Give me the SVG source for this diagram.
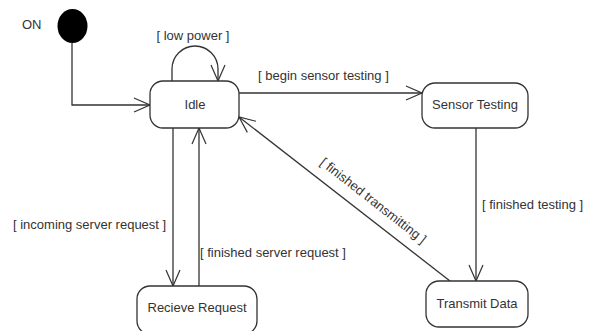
<svg xmlns="http://www.w3.org/2000/svg" width="593" height="331" viewBox="0 0 593 331">
<defs>
<marker id="arr" markerUnits="userSpaceOnUse" markerWidth="20" markerHeight="20" viewBox="-18 -10 20 20" refX="0" refY="0" orient="auto">
<path d="M-16,-7 L0,0 L-16,7" fill="none" stroke="#333" stroke-width="1.2"/>
</marker>
</defs>
<style>
.box{fill:#fff;stroke:#333;stroke-width:1.3}
.t{font-family:"Liberation Sans",Arial,sans-serif;font-size:13px;fill:#333}
.c{fill:none;stroke:#333;stroke-width:1.3;marker-end:url(#arr)}
</style>
<rect width="593" height="331" fill="#fff"/>
<g id="connectors">
<path class="c" d="M72,43 V105 H150"/>
<path class="c" d="M172,81 V69 A23,23 0 0 1 218,69 V81"/>
<path class="c" d="M239,93 H422"/>
<path class="c" d="M476,128 V281"/>
<path class="c" d="M450,281 L239,117"/>
<path class="c" d="M173,128 V286"/>
<path class="c" d="M199,286 V128"/>
</g>
<g id="labels">
<text class="t" x="193" y="40" text-anchor="middle">[ low power ]</text>
<text class="t" x="258" y="80">[ begin sensor testing ]</text>
<text class="t" x="482" y="209">[ finished testing ]</text>
<text class="t" x="13" y="229">[ incoming server request ]</text>
<text class="t" x="200" y="257">[ finished server request ]</text>
<text class="t" transform="translate(373,201) rotate(38)" text-anchor="middle" dy="4">[ finished transmitting ]</text>
</g>
<g id="on">
<text class="t" x="22" y="29">ON</text>
<ellipse cx="72.5" cy="26" rx="15" ry="17" fill="#000"/>
</g>
<g id="idle">
<rect class="box" x="150" y="81" width="89" height="47" rx="13"/>
<text class="t" x="195" y="109" text-anchor="middle">Idle</text>
</g>
<g id="sensor-testing">
<rect class="box" x="422" y="83" width="106" height="45" rx="13"/>
<text class="t" x="475" y="109" text-anchor="middle">Sensor Testing</text>
</g>
<g id="transmit-data">
<rect class="box" x="426" y="281" width="102" height="46" rx="13"/>
<text class="t" x="477" y="308" text-anchor="middle">Transmit Data</text>
</g>
<g id="recieve-request">
<rect class="box" x="137" y="286" width="120" height="48" rx="13"/>
<text class="t" x="197" y="312" text-anchor="middle">Recieve Request</text>
</g>
</svg>
